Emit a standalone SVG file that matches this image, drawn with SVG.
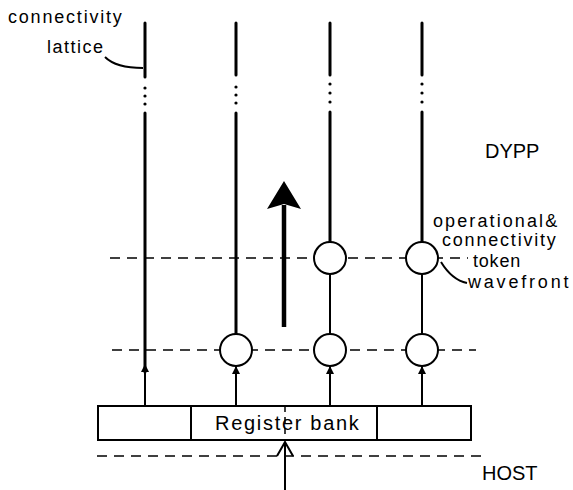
<svg xmlns="http://www.w3.org/2000/svg" width="573" height="490" viewBox="0 0 573 490">
<defs>
<style>
.t{font-family:"Liberation Sans","DejaVu Sans",sans-serif;font-size:18px;fill:#000}
.big{font-size:20px}
.lat{stroke:#000;stroke-width:3;fill:none;stroke-linecap:round}
.ln{stroke:#000;stroke-width:2;fill:none}
.dash{stroke:#000;stroke-width:1.4;fill:none;stroke-dasharray:10 7}
.node{fill:#fff;stroke:#000;stroke-width:2}
.dot{fill:#000}
</style>
<marker id="ah" viewBox="0 0 8 10" refX="8" refY="5" markerWidth="8" markerHeight="10" markerUnits="userSpaceOnUse" orient="auto">
<path d="M0,1 L8,5 L0,9 Z" fill="#000"/>
</marker>
</defs>
<rect width="573" height="490" fill="#fff"/>

<g id="connectors">
<line class="dash" x1="110" y1="258" x2="468" y2="258"/>
<line class="dash" x1="112" y1="350" x2="476" y2="350"/>
<line class="dash" x1="97" y1="456" x2="482" y2="456"/>
<g id="lattice1">
<line class="lat" x1="145" y1="23" x2="145" y2="77"/>
<circle class="dot" cx="145" cy="88" r="1.6"/><circle class="dot" cx="145" cy="96" r="1.6"/><circle class="dot" cx="145" cy="104" r="1.6"/>
<line class="lat" x1="145" y1="113" x2="145" y2="372"/>
<line class="ln" x1="145" y1="406" x2="145" y2="364" marker-end="url(#ah)"/>
</g>
<g id="lattice2">
<line class="lat" x1="236" y1="23" x2="236" y2="75"/>
<circle class="dot" cx="236" cy="87" r="1.6"/><circle class="dot" cx="236" cy="95" r="1.6"/><circle class="dot" cx="236" cy="103" r="1.6"/>
<line class="lat" x1="236" y1="113" x2="236" y2="334"/>
<line class="ln" x1="236" y1="406" x2="236" y2="366" marker-end="url(#ah)"/>
</g>
<g id="lattice3">
<line class="lat" x1="330" y1="23" x2="330" y2="75"/>
<circle class="dot" cx="330" cy="84" r="1.6"/><circle class="dot" cx="330" cy="93" r="1.6"/><circle class="dot" cx="330" cy="102" r="1.6"/>
<line class="lat" x1="330" y1="112" x2="330" y2="242"/>
<line class="ln" x1="330" y1="274" x2="330" y2="334" stroke-width="2.5"/>
<line class="ln" x1="330" y1="406" x2="330" y2="366" marker-end="url(#ah)"/>
</g>
<g id="lattice4">
<line class="lat" x1="422" y1="23" x2="422" y2="75"/>
<circle class="dot" cx="422" cy="84" r="1.6"/><circle class="dot" cx="422" cy="93" r="1.6"/><circle class="dot" cx="422" cy="102" r="1.6"/>
<line class="lat" x1="422" y1="112" x2="422" y2="242"/>
<line class="ln" x1="422" y1="274" x2="422" y2="334" stroke-width="2.5"/>
<line class="ln" x1="422" y1="406" x2="422" y2="366" marker-end="url(#ah)"/>
</g>
<line x1="284" y1="327" x2="284" y2="205" stroke="#000" stroke-width="4.5"/>
<polygon points="284,181 301,209 284,204 267,209" fill="#000"/>
<line class="ln" x1="285" y1="490" x2="285" y2="442"/>
<polyline class="ln" points="277,456 285,442 293,456"/>
<path class="ln" d="M105,57 Q116,68 143,68" stroke-width="1.5"/>
<path class="ln" d="M441,262 Q452,280 467,283" stroke-width="1.5"/>
</g>

<g id="node-r2-1"><circle class="node" cx="236" cy="350" r="16"/></g>
<g id="node-r2-2"><circle class="node" cx="330" cy="350" r="16"/></g>
<g id="node-r2-3"><circle class="node" cx="422" cy="350" r="16"/></g>
<g id="node-r1-2"><circle class="node" cx="330" cy="258" r="16"/></g>
<g id="node-r1-3"><circle class="node" cx="422" cy="258" r="16"/></g>

<g id="register-bank">
<rect x="98" y="406" width="373" height="34" fill="#fff" stroke="#000" stroke-width="2"/>
<line class="ln" x1="191" y1="406" x2="191" y2="440"/>
<line class="ln" x1="377" y1="406" x2="377" y2="440"/>
<line x1="285" y1="406" x2="285" y2="440" stroke="#000" stroke-width="1.5" stroke-dasharray="6 5"/>
<text class="t big" x="215" y="430" letter-spacing="1.7">Register bank</text>
</g>

<g id="labels">
<text class="t" x="8" y="23" letter-spacing="1.8">connectivity</text>
<text class="t" x="47" y="53" letter-spacing="1.5">lattice</text>
<text class="t big" x="485" y="158">DYPP</text>
<text class="t big" x="482" y="480">HOST</text>
<text class="t" x="433" y="227" letter-spacing="2.1">operational&amp;</text>
<text class="t" x="442" y="246" letter-spacing="1.8">connectivity</text>
<text class="t" x="473" y="267" letter-spacing="0.8">token</text>
<text class="t" x="468" y="288" letter-spacing="2.8">wavefront</text>
</g>
</svg>
